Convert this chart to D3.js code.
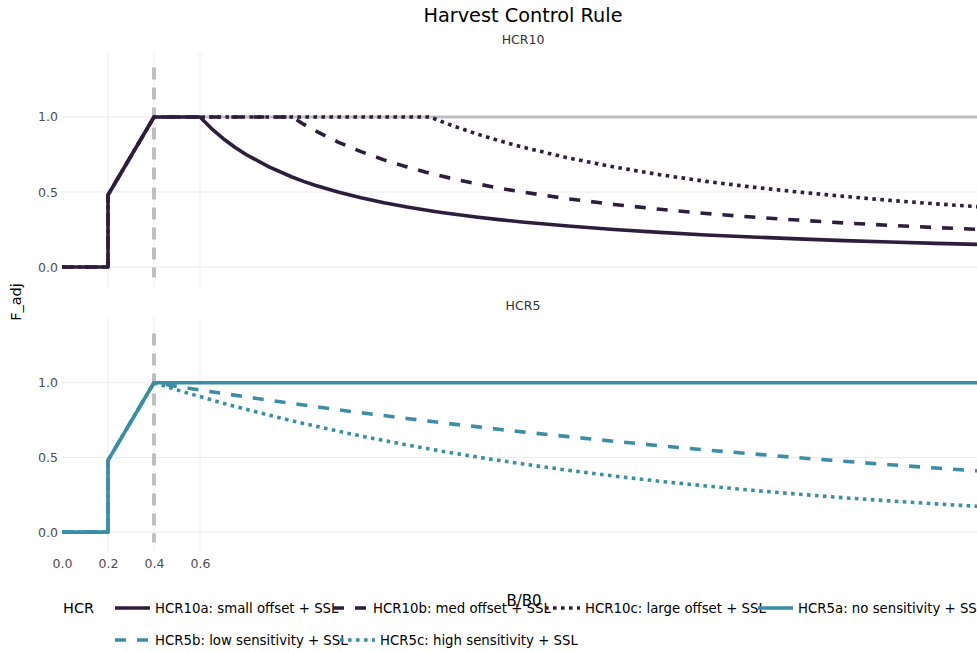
<!DOCTYPE html>
<html>
<head>
<meta charset="utf-8">
<script src="https://cdn.jsdelivr.net/npm/d3@7"></script>
<style>
  html, body { margin: 0; padding: 0; background: #fff; }
  svg { display: block; font-family: "DejaVu Sans", Verdana, sans-serif; }
</style>
</head>
<body>
<svg id="chart" width="977" height="651"></svg>
<script>
// ---------- data ----------
const bRatio = [0, 0.2, 0.2, 0.4, 0.45, 0.5, 0.55, 0.6, 0.65, 0.7, 0.75, 0.8, 0.9, 1.0, 1.05, 1.1, 1.2, 1.3, 1.4, 1.5, 1.6, 1.65, 1.7, 1.8, 1.9, 2.0, 2.2, 2.4, 2.6, 2.8, 3.0, 3.2, 3.4, 3.6, 3.8, 4.0];

const hcr10a = [0, 0, 0.48, 1, 1, 1, 1, 1, 0.923, 0.857, 0.80, 0.75, 0.667, 0.60, 0.571, 0.545, 0.50, 0.462, 0.429, 0.40, 0.375, 0.364, 0.353, 0.333, 0.316, 0.30, 0.273, 0.25, 0.231, 0.214, 0.20, 0.188, 0.176, 0.167, 0.158, 0.15];
const hcr10b = [0, 0, 0.48, 1, 1, 1, 1, 1, 1, 1, 1, 1, 1, 1, 0.952, 0.909, 0.833, 0.769, 0.714, 0.667, 0.625, 0.606, 0.588, 0.556, 0.526, 0.50, 0.455, 0.417, 0.385, 0.357, 0.333, 0.313, 0.294, 0.278, 0.263, 0.25];
const hcr10c = [0, 0, 0.48, 1, 1, 1, 1, 1, 1, 1, 1, 1, 1, 1, 1, 1, 1, 1, 1, 1, 1, 0.970, 0.941, 0.889, 0.842, 0.80, 0.727, 0.667, 0.615, 0.571, 0.533, 0.50, 0.471, 0.444, 0.421, 0.40];
const hcr5a  = [0, 0, 0.48, 1, 1, 1, 1, 1, 1, 1, 1, 1, 1, 1, 1, 1, 1, 1, 1, 1, 1, 1, 1, 1, 1, 1, 1, 1, 1, 1, 1, 1, 1, 1, 1, 1];
const hcr5b  = [0, 0, 0.48, 1, 0.988, 0.975, 0.963, 0.951, 0.940, 0.928, 0.917, 0.905, 0.883, 0.861, 0.851, 0.840, 0.819, 0.799, 0.780, 0.760, 0.742, 0.732, 0.723, 0.706, 0.688, 0.671, 0.639, 0.608, 0.578, 0.550, 0.524, 0.498, 0.474, 0.451, 0.429, 0.408];
const hcr5c  = [0, 0, 0.48, 1, 0.976, 0.952, 0.929, 0.907, 0.885, 0.863, 0.842, 0.822, 0.783, 0.745, 0.727, 0.710, 0.676, 0.643, 0.613, 0.583, 0.556, 0.542, 0.529, 0.504, 0.480, 0.457, 0.414, 0.375, 0.340, 0.309, 0.280, 0.254, 0.230, 0.209, 0.189, 0.171];

const seriesNames = ["HCR10a: small offset + SSL", "HCR10b: med offset + SSL", "HCR10c: large offset + SSL",
                     "HCR5a: no sensitivity + SSL", "HCR5b: low sensitivity + SSL", "HCR5c: high sensitivity + SSL"];
const seriesValues = [hcr10a, hcr10b, hcr10c, hcr5a, hcr5b, hcr5c];
const seriesPanel = ["HCR10", "HCR10", "HCR10", "HCR5", "HCR5", "HCR5"];
const seriesDash = ["solid", "dash", "dot", "solid", "dash", "dot"];
const panels = ["HCR10", "HCR5"];
const xTicks = [0, 0.2, 0.4, 0.6];
const yTicks = [0, 0.5, 1.0];
const limitRef = 0.4;   // vertical reference B/B0
const fRef = 1.0;       // horizontal reference F_adj (HCR10 panel)

// ---------- layout ----------
const svg = d3.select("#chart");
const colors = { HCR10: "#2d1e3e", HCR5: "#3a8ea7" };
const dashes = { solid: null, dash: "11,11", dot: "3.6,4.4" };
const lw = 3.6;

const x = d3.scaleLinear().domain([0, 4]).range([62, 982]);
const panelBox = {
  HCR10: { top: 52, bottom: 287 },
  HCR5:  { top: 318, bottom: 552 }
};
const yDomain = [-0.133, 1.433];
const yScales = {};
panels.forEach(p => {
  yScales[p] = d3.scaleLinear().domain(yDomain).range([panelBox[p].bottom, panelBox[p].top]);
});

// title
svg.append("text").attr("x", 523).attr("y", 22).attr("text-anchor", "middle")
  .attr("font-size", 19.3).attr("fill", "#000").text("Harvest Control Rule");

panels.forEach((p, i) => {
  const y = yScales[p];
  const g = svg.append("g");
  // subplot title
  g.append("text").attr("x", 523).attr("y", panelBox[p].top - 8).attr("text-anchor", "middle")
    .attr("font-size", 12.5).attr("fill", "#333").text(p);

  // gridlines
  g.selectAll(".hg").data(yTicks).enter().append("line")
    .attr("x1", x.range()[0]).attr("x2", 977)
    .attr("y1", d => y(d)).attr("y2", d => y(d))
    .attr("stroke", "#ebebeb").attr("stroke-width", 1);
  g.selectAll(".vg").data(xTicks.filter(d => d > 0)).enter().append("line")
    .attr("x1", d => x(d)).attr("x2", d => x(d))
    .attr("y1", panelBox[p].top).attr("y2", panelBox[p].bottom)
    .attr("stroke", "#ebebeb").attr("stroke-width", 1);

  // y axis labels
  const yAxis = d3.axisLeft(y).tickValues(yTicks).tickFormat(d3.format(".1f")).tickSize(0).tickPadding(4);
  const ya = g.append("g").attr("transform", `translate(${x(0)},0)`).call(yAxis);
  ya.select(".domain").remove();
  ya.selectAll("text").attr("font-size", 12.5).attr("fill", "#4d4d4d")
    .attr("font-family", "DejaVu Sans, Verdana, sans-serif");

  // horizontal reference (top panel)
  if (p === "HCR10") {
    g.append("line").attr("x1", x(limitRef)).attr("x2", 977)
      .attr("y1", y(fRef)).attr("y2", y(fRef))
      .attr("stroke", "#bfbfbf").attr("stroke-width", 3);
  }
  // vertical dashed reference
  g.append("line").attr("x1", x(limitRef)).attr("x2", x(limitRef))
    .attr("y1", y(1.33)).attr("y2", y(-0.07))
    .attr("stroke", "#bfbfbf").attr("stroke-width", 4).attr("stroke-dasharray", "12,8");

  // series lines
  const line = d3.line().x((d, j) => x(bRatio[j])).y(d => y(d));
  seriesValues.forEach((vals, k) => {
    if (seriesPanel[k] !== p) return;
    g.append("path").datum(vals)
      .attr("d", line)
      .attr("fill", "none")
      .attr("stroke", colors[p])
      .attr("stroke-width", lw)
      .attr("stroke-linejoin", "round")
      .attr("stroke-dasharray", dashes[seriesDash[k]]);
  });
});

// x axis labels (bottom panel)
const xAxis = d3.axisBottom(x).tickValues(xTicks).tickFormat(d3.format(".1f")).tickSize(0).tickPadding(7);
const xa = svg.append("g").attr("transform", `translate(0,${panelBox.HCR5.bottom})`).call(xAxis);
xa.select(".domain").remove();
xa.selectAll("text").attr("font-size", 12.5).attr("fill", "#4d4d4d")
  .attr("font-family", "DejaVu Sans, Verdana, sans-serif");

// axis titles
svg.append("text").attr("x", 524).attr("y", 606).attr("text-anchor", "middle")
  .attr("font-size", 15).attr("fill", "#000").text("B/B0");
svg.append("text").attr("transform", "translate(21,302) rotate(-90)").attr("text-anchor", "middle")
  .attr("font-size", 14.5).attr("fill", "#000").text("F_adj");

// legend
const legend = svg.append("g");
legend.append("text").attr("x", 63).attr("y", 613).attr("font-size", 14.5).attr("fill", "#000").text("HCR");
const legendPos = [[115, 608], [333, 608], [545, 608], [758, 608], [115, 640], [340, 640]];
seriesNames.forEach((name, k) => {
  const [lx, ly] = legendPos[k];
  const c = colors[seriesPanel[k]];
  legend.append("line").attr("x1", lx).attr("x2", lx + 35).attr("y1", ly).attr("y2", ly)
    .attr("stroke", c).attr("stroke-width", lw).attr("stroke-dasharray", dashes[seriesDash[k]]);
  legend.append("text").attr("x", lx + 40).attr("y", ly + 4.5).attr("font-size", 13.3)
    .attr("fill", "#000").text(name);
});
</script>
</body>
</html>
